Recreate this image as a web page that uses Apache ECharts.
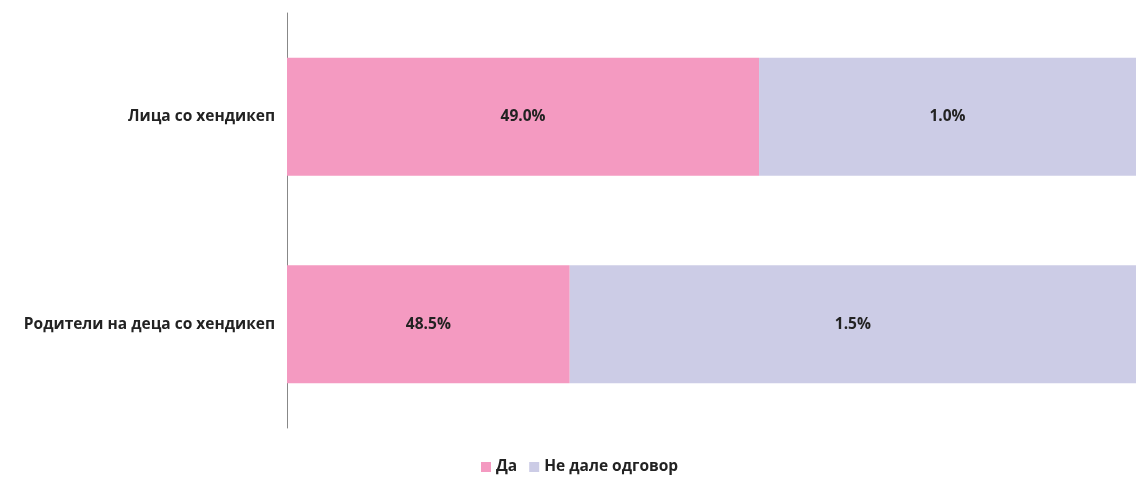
<!DOCTYPE html>
<html>
<head>
<meta charset="utf-8">
<script src="https://cdn.jsdelivr.net/npm/echarts@6/dist/echarts.min.js"></script>
<style>
html,body{margin:0;padding:0;background:#fff;}
#main{width:1145px;height:478px;}
</style>
</head>
<body>
<div id="main"></div>
<script>
// категории (одозгора надолу)
var categories = ['Лица со хендикеп', 'Родители на деца со хендикеп'];
var seriesNames = ['Да', 'Не дале одговор'];
// должина на сегментите (удел од лентата, прочитано од сликата)
var yesShare = [55.6, 33.3];
var noShare = [44.4, 66.7];
// натписи што се испишани во лентите
var yesLabels = ['49.0%', '48.5%'];
var noLabels = ['1.0%', '1.5%'];

var myChart = echarts.init(document.getElementById('main'));

var labelFont = {
	show : true,
	position : 'inside',
	color : '#222',
	fontFamily : 'Open Sans',
	fontWeight : 'bold',
	fontSize : 15.5
};

option = {
	animation : false,
	grid : {
		left : 287,
		right : 9,
		top : 13,
		bottom : 50
	},
	legend : {
		data : seriesNames,
		bottom : -2,
		left : 476,
		icon : 'rect',
		itemWidth : 10,
		itemHeight : 10,
		itemGap : 12,
		textStyle : {
			color : '#222',
			fontFamily : 'Open Sans',
			fontWeight : 'bold',
			fontSize : 15.5
		}
	},
	xAxis : {
		type : 'value',
		min : 0,
		max : 100,
		show : false
	},
	yAxis : {
		type : 'category',
		inverse : true,
		data : categories,
		axisLine : {
			lineStyle : {
				color : '#888',
				width : 1
			}
		},
		axisTick : {
			show : false
		},
		axisLabel : {
			margin : 12,
			color : '#222',
			fontFamily : 'Open Sans',
			fontWeight : 'bold',
			fontSize : 15.5
		}
	},
	series : [ {
		name : seriesNames[0],
		type : 'bar',
		stack : 'total',
		barWidth : 118,
		data : yesShare,
		itemStyle : {
			color : '#f49ac1'
		},
		label : Object.assign({}, labelFont, {
			formatter : function(p) {
				return yesLabels[p.dataIndex];
			}
		})
	}, {
		name : seriesNames[1],
		type : 'bar',
		stack : 'total',
		barWidth : 118,
		data : noShare,
		itemStyle : {
			color : '#cccce6'
		},
		label : Object.assign({}, labelFont, {
			formatter : function(p) {
				return noLabels[p.dataIndex];
			}
		})
	} ]
};
myChart.setOption(option);
</script>
</body>
</html>
